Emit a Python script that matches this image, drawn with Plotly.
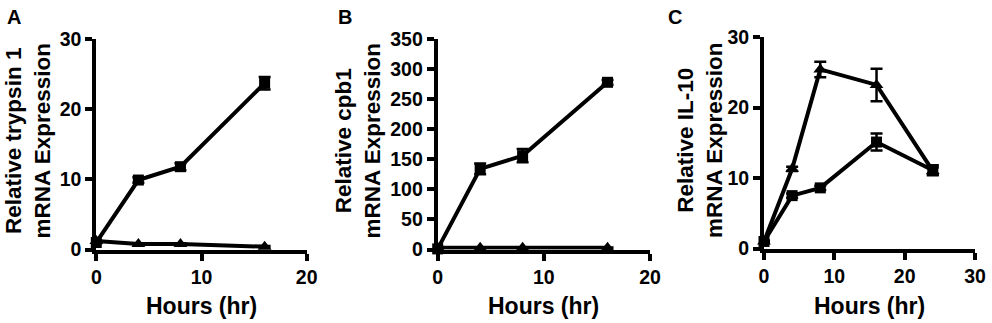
import plotly.graph_objects as go

W, H = 992, 323

hours_ab = [0, 4, 8, 16]
hours_c = [0, 4, 8, 16, 24]

# Panel A: trypsin 1
a_sq = [1.0, 9.9, 11.8, 23.7]
a_sq_err = [0.1, 0.4, 0.5, 0.9]
a_tri = [1.2, 0.8, 0.8, 0.4]
a_tri_err = [0.1, 0.1, 0.1, 0.1]

# Panel B: cpb1
b_sq = [1.0, 134, 156, 278]
b_sq_err = [0.5, 9, 11, 4]
b_tri = [3, 3, 3, 3]
b_tri_err = [0.2, 0.2, 0.2, 0.2]

# Panel C: IL-10
c_sq = [1.0, 7.5, 8.6, 15.1, 11.1]
c_sq_err = [0.1, 0.3, 0.3, 1.2, 0.7]
c_tri = [1.0, 11.3, 25.4, 23.2, 11.0]
c_tri_err = [0.1, 0.3, 1.1, 2.3, 0.5]

y_titles = ["Relative trypsin 1<br>mRNA Expression",
            "Relative cpb1<br>mRNA Expression",
            "Relative IL-10<br>mRNA Expression"]
x_title = "Hours (hr)"
panel_letters = ["A", "B", "C"]

FONT = "Liberation Sans, Arial, sans-serif"

# pixel geometry of each panel: (x0, x1, ytop, ybottom)
geo = [(96.3, 306.7, 39, 249.5), (437.7, 650, 39, 249.5), (764, 975, 37, 248.5)]
xranges = [[0, 20], [0, 20], [0, 30]]
yranges = [[0, 30], [0, 350], [0, 30]]
ydticks = [10, 50, 10]
title_cx = [27.5, 357.5, 700]
letter_x = [13.5, 344.5, 675]

fig = go.Figure()

series = [
    (hours_ab, a_sq, a_sq_err, a_tri, a_tri_err),
    (hours_ab, b_sq, b_sq_err, b_tri, b_tri_err),
    (hours_c, c_sq, c_sq_err, c_tri, c_tri_err),
]

for i, (hx, sq, sqe, tr, tre) in enumerate(series):
    xa = "x" if i == 0 else f"x{i+1}"
    ya = "y" if i == 0 else f"y{i+1}"
    for vals, errs, sym, sz in [(tr, tre, "triangle-up", 12), (sq, sqe, "square", 11)]:
        fig.add_trace(go.Scatter(
            x=hx, y=vals, xaxis=xa, yaxis=ya, mode="lines+markers",
            line=dict(color="black", width=4),
            marker=dict(symbol=sym, size=sz, color="black"),
            error_y=dict(type="data", array=errs, visible=True, color="black",
                         thickness=2.5, width=6),
            cliponaxis=False, showlegend=False,
        ))

layout = dict(
    width=W, height=H, margin=dict(l=0, r=0, t=0, b=0, pad=0, autoexpand=False),
    paper_bgcolor="white", plot_bgcolor="white",
    font=dict(family=FONT, color="black", size=19, weight="bold"),
)

annotations = []
for i, (x0, x1, yt, yb) in enumerate(geo):
    sfx = "" if i == 0 else str(i + 1)
    layout[f"xaxis{sfx}"] = dict(
        domain=[x0 / W, x1 / W], range=xranges[i], anchor=f"y{sfx}",
        showline=True, linecolor="black", linewidth=4,
        ticks="outside", ticklen=7, tickwidth=3.5, tickcolor="black",
        dtick=10, tick0=0, showgrid=False, zeroline=False, automargin=False,
        tickfont=dict(family=FONT, size=19.5, weight="bold", color="black"),
        fixedrange=True,
    )
    layout[f"yaxis{sfx}"] = dict(
        domain=[1 - yb / H, 1 - yt / H], range=yranges[i], anchor=f"x{sfx}",
        showline=True, linecolor="black", linewidth=4,
        ticks="outside", ticklen=7, tickwidth=3.5, tickcolor="black",
        dtick=ydticks[i], tick0=0, showgrid=False, zeroline=False, automargin=False,
        tickfont=dict(family=FONT, size=19.5, weight="bold", color="black"),
        fixedrange=True,
    )
    # y title
    annotations.append(dict(
        text=y_titles[i], textangle=-90, xref="paper", yref="paper",
        x=title_cx[i] / W, y=1 - 141 / H, xanchor="center", yanchor="middle",
        showarrow=False, font=dict(family=FONT, size=22.5, weight="bold", color="black"),
    ))
    # x title
    annotations.append(dict(
        text=x_title, xref="paper", yref="paper",
        x=(x0 + x1) / 2 / W, y=1 - 306 / H, xanchor="center", yanchor="middle",
        showarrow=False, font=dict(family=FONT, size=23, weight="bold", color="black"),
    ))
    # panel letter
    annotations.append(dict(
        text=panel_letters[i], xref="paper", yref="paper",
        x=letter_x[i] / W, y=1 - 17 / H, xanchor="center", yanchor="middle",
        showarrow=False, font=dict(family=FONT, size=20, weight="bold", color="black"),
    ))

layout["annotations"] = annotations
fig.update_layout(**layout)
fig.write_html("out.html", config={"displayModeBar": False},
               post_script="document.body.style.margin='0';document.body.style.overflow='hidden';")
